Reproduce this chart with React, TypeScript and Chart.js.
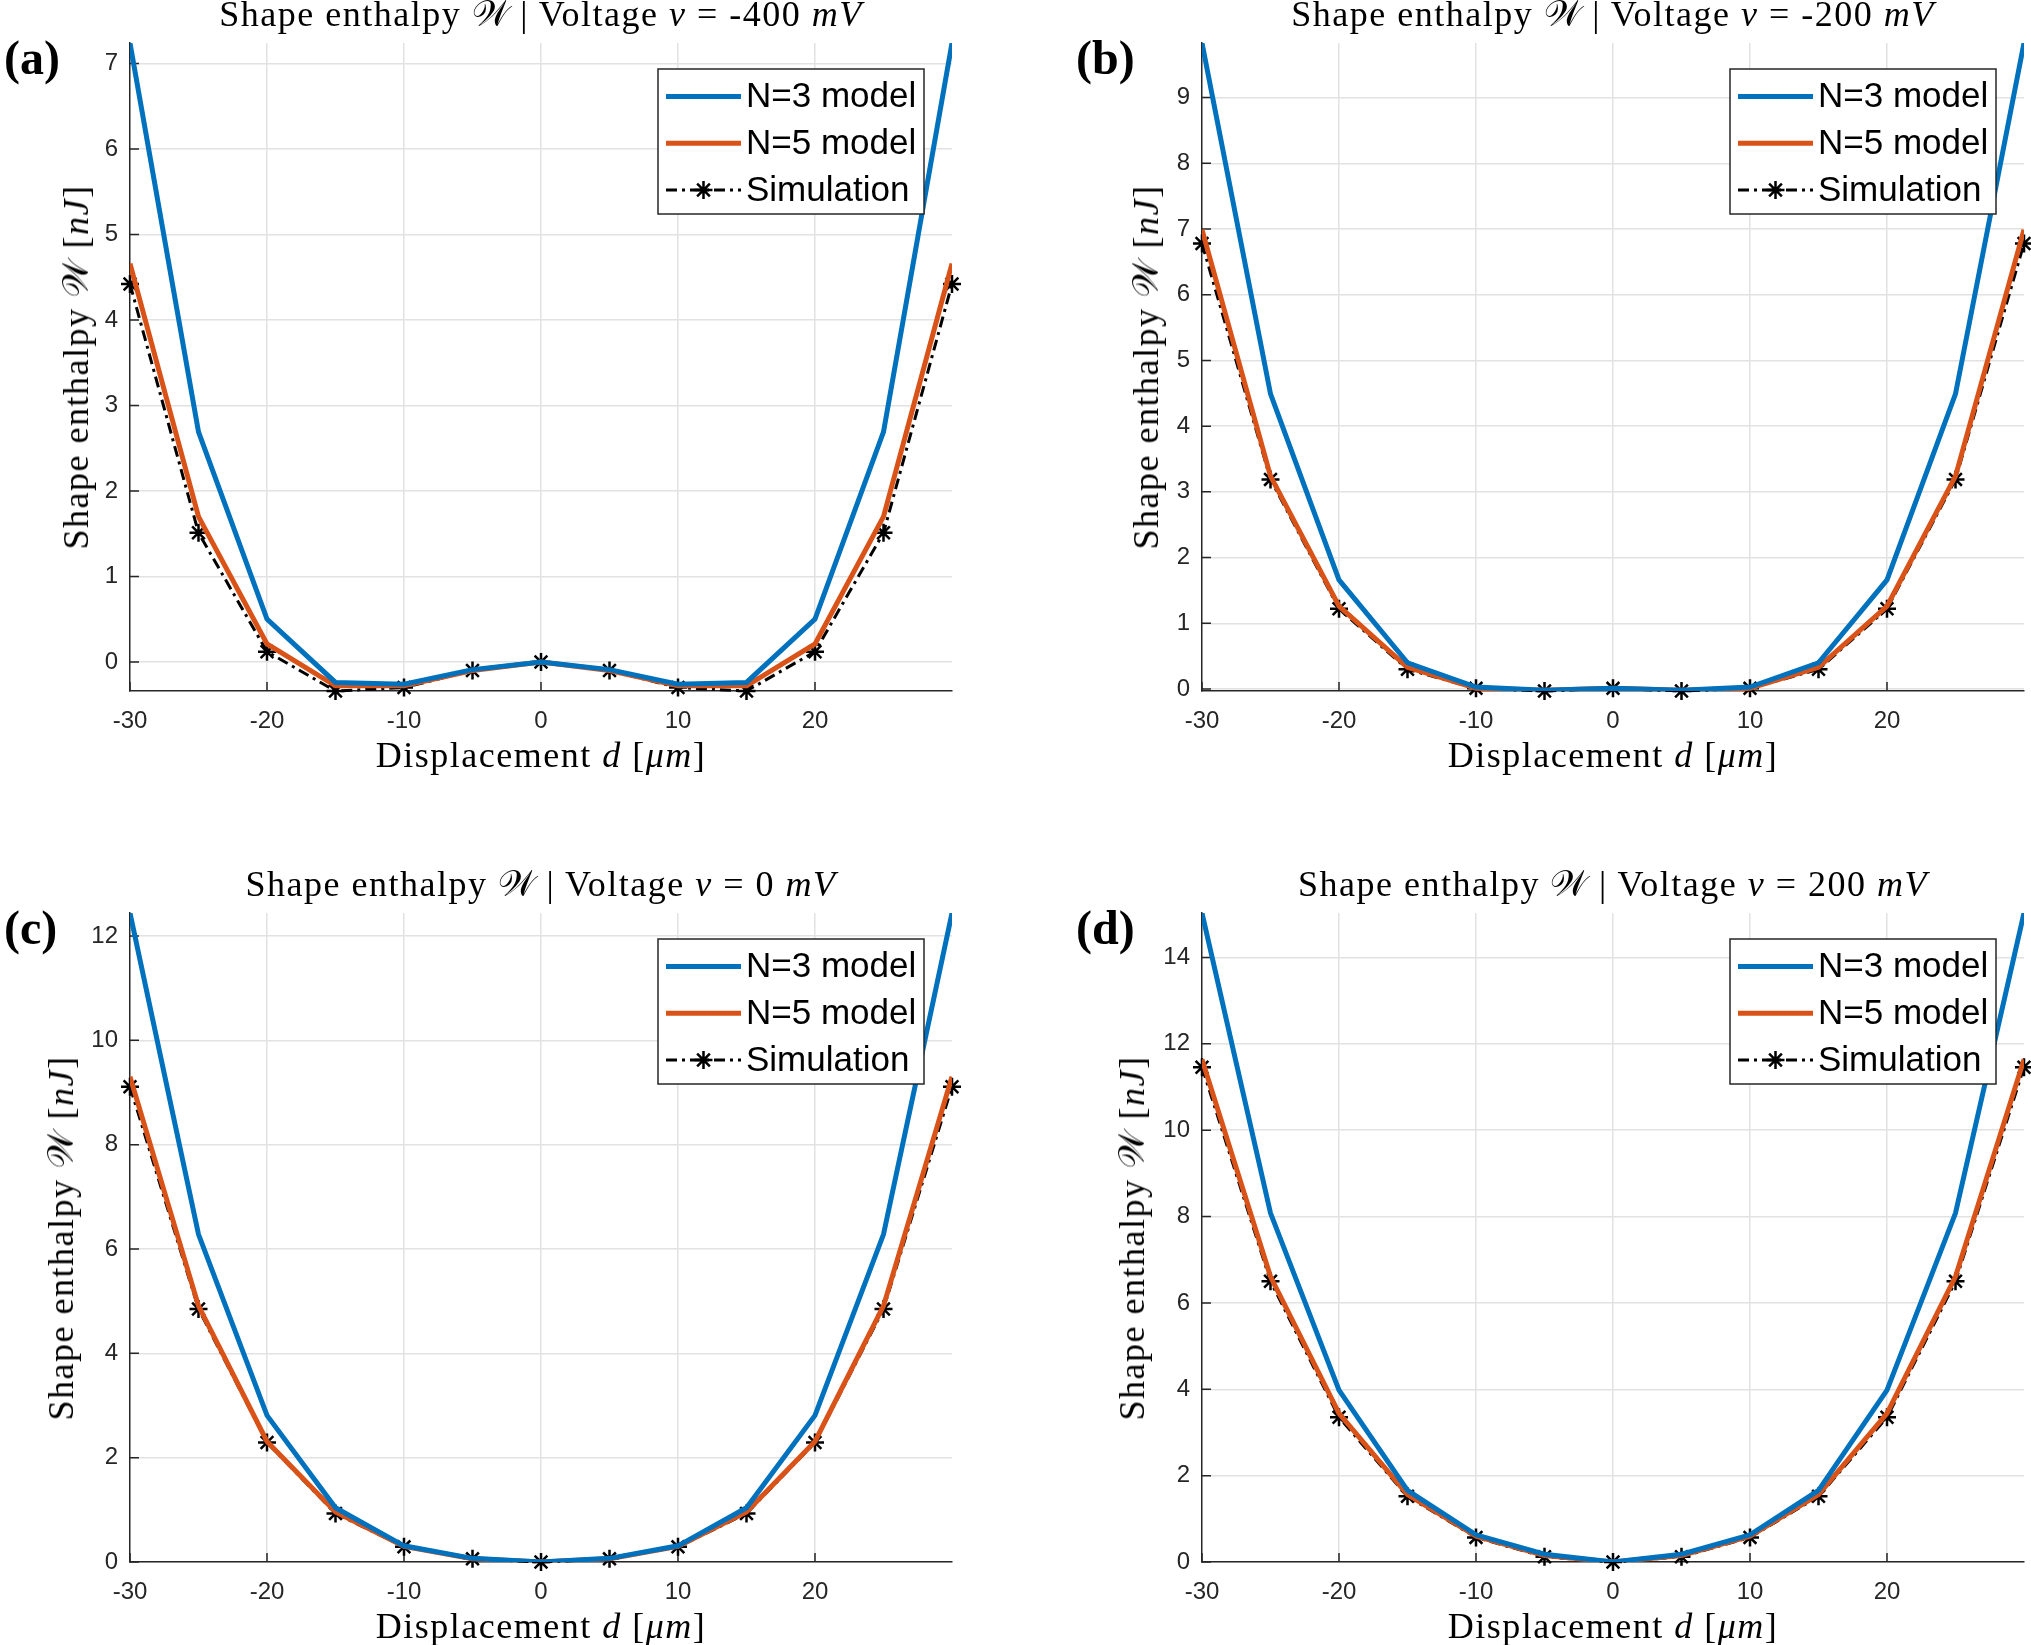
import { useEffect, useRef } from "react";
import Chart from "chart.js/auto";

// displacement samples (µm)
const DISPLACEMENT = [-30, -25, -20, -15, -10, -5, 0, 5, 10, 15, 20, 25, 30];
const X_TICKS = [-30, -20, -10, 0, 10, 20, 30];
const X_TICK_LABELS = ["-30", "-20", "-10", "0", "10", "20", ""];

// v = -400 mV
const N3_M400 = [7.24, 2.69, 0.5, -0.24, -0.26, -0.09, 0, -0.09, -0.26, -0.24, 0.5, 2.69, 7.24];
const N5_M400 = [4.66, 1.7, 0.21, -0.28, -0.28, -0.1, 0, -0.1, -0.28, -0.28, 0.21, 1.7, 4.66];
const SIM_M400 = [4.42, 1.51, 0.12, -0.34, -0.3, -0.1, 0, -0.1, -0.3, -0.34, 0.12, 1.51, 4.42];
const Y_TICKS_M400 = [0, 1, 2, 3, 4, 5, 6, 7];

// v = -200 mV
const N3_M200 = [9.83, 4.49, 1.66, 0.4, 0.03, -0.02, 0.01, -0.02, 0.03, 0.4, 1.66, 4.49, 9.83];
const N5_M200 = [6.99, 3.24, 1.26, 0.33, 0.01, -0.02, 0.01, -0.02, 0.01, 0.33, 1.26, 3.24, 6.99];
const SIM_M200 = [6.78, 3.19, 1.22, 0.3, 0.01, -0.03, 0.01, -0.03, 0.01, 0.3, 1.22, 3.19, 6.78];
const Y_TICKS_M200 = [0, 1, 2, 3, 4, 5, 6, 7, 8, 9];

// v = 0 mV
const N3_0 = [12.44, 6.28, 2.81, 1.04, 0.31, 0.07, 0, 0.07, 0.31, 1.04, 2.81, 6.28, 12.44];
const N5_0 = [9.3, 4.91, 2.31, 0.96, 0.3, 0.06, 0, 0.06, 0.3, 0.96, 2.31, 4.91, 9.3];
const SIM_0 = [9.11, 4.85, 2.29, 0.93, 0.29, 0.06, 0, 0.06, 0.29, 0.93, 2.29, 4.85, 9.11];
const Y_TICKS_0 = [0, 2, 4, 6, 8, 10, 12];

// v = 200 mV
const N3_P200 = [15.03, 8.08, 3.98, 1.66, 0.63, 0.18, 0, 0.18, 0.63, 1.66, 3.98, 8.08, 15.03];
const N5_P200 = [11.64, 6.61, 3.44, 1.56, 0.6, 0.15, 0, 0.15, 0.6, 1.56, 3.44, 6.61, 11.64];
const SIM_P200 = [11.46, 6.5, 3.35, 1.52, 0.57, 0.12, 0, 0.12, 0.57, 1.52, 3.35, 6.5, 11.46];
const Y_TICKS_P200 = [0, 2, 4, 6, 8, 10, 12, 14];

const SERIES_NAMES = ["N=3 model", "N=5 model", "Simulation"];

const BLUE = "#0072BD";
const ORANGE = "#D95319";
const AXIS = "#262626";
const GRID = "#e2e2e2";
const SANS = "'Liberation Sans', Arial, sans-serif";
const SERIF = "'Liberation Serif', 'Times New Roman', serif";
const SCRIPT = "'DejaVu Serif', 'DejaVu Sans', 'Noto Sans CJK SC', serif";

const Y_AXIS_W = 100;
const X_AXIS_H = 60;
const X_TICK_PAD = 16;
const STAR_R = 9;

type Panel = {
  tag: string;
  voltage: string;
  n3: number[];
  n5: number[];
  sim: number[];
  yMin: number;
  yMax: number;
  yTicks: number[];
  left: number;
  top: number;
  right: number;
  bottom: number;
  ylabelGap: number;
};

const PANELS: Panel[] = [
  { tag: "(a)", voltage: "-400", n3: N3_M400, n5: N5_M400, sim: SIM_M400, yMin: -0.34, yMax: 7.24, yTicks: Y_TICKS_M400,
    left: 130, top: 43, right: 952, bottom: 691, ylabelGap: 54 },
  { tag: "(b)", voltage: "-200", n3: N3_M200, n5: N5_M200, sim: SIM_M200, yMin: -0.03, yMax: 9.83, yTicks: Y_TICKS_M200,
    left: 1202, top: 43, right: 2024, bottom: 691, ylabelGap: 56 },
  { tag: "(c)", voltage: "0", n3: N3_0, n5: N5_0, sim: SIM_0, yMin: 0, yMax: 12.44, yTicks: Y_TICKS_0,
    left: 130, top: 913, right: 952, bottom: 1562, ylabelGap: 69 },
  { tag: "(d)", voltage: "200", n3: N3_P200, n5: N5_P200, sim: SIM_P200, yMin: 0, yMax: 15.03, yTicks: Y_TICKS_P200,
    left: 1202, top: 913, right: 2024, bottom: 1562, ylabelGap: 70 },
];

function drawStar(ctx: CanvasRenderingContext2D, x: number, y: number, r: number) {
  ctx.beginPath();
  for (let k = 0; k < 4; k++) {
    const a = (k * Math.PI) / 4;
    ctx.moveTo(x - r * Math.cos(a), y - r * Math.sin(a));
    ctx.lineTo(x + r * Math.cos(a), y + r * Math.sin(a));
  }
  ctx.stroke();
}

// MATLAB style ticks pointing into the axes
const innerTicks = {
  id: "innerTicks",
  beforeDatasetsDraw(chart: any) {
    const { ctx, chartArea: a, scales } = chart;
    ctx.save();
    ctx.strokeStyle = AXIS;
    ctx.lineWidth = 1.5;
    ctx.beginPath();
    scales.x.ticks.forEach((t: any) => {
      if (t.value >= 30) return;
      const px = scales.x.getPixelForValue(t.value);
      ctx.moveTo(px, a.bottom);
      ctx.lineTo(px, a.bottom - 9);
    });
    scales.y.ticks.forEach((t: any) => {
      const py = scales.y.getPixelForValue(t.value);
      ctx.moveTo(a.left, py);
      ctx.lineTo(a.left + 9, py);
    });
    ctx.stroke();
    ctx.restore();
  },
};

// boxed legend in the north-east corner
const boxLegend = {
  id: "boxLegend",
  afterDraw(chart: any) {
    const { ctx, chartArea } = chart;
    const w = 266;
    const h = 145;
    const x0 = chartArea.right - 28 - w;
    const y0 = chartArea.top + 26;
    ctx.save();
    ctx.fillStyle = "#fff";
    ctx.fillRect(x0, y0, w, h);
    ctx.strokeStyle = AXIS;
    ctx.lineWidth = 1.5;
    ctx.strokeRect(x0, y0, w, h);
    chart.data.datasets.forEach((ds: any, i: number) => {
      const y = y0 + 27.5 + i * 46.7;
      ctx.strokeStyle = ds.borderColor;
      ctx.lineWidth = ds.borderWidth;
      ctx.setLineDash(ds.borderDash || []);
      ctx.beginPath();
      ctx.moveTo(x0 + 8, y);
      ctx.lineTo(x0 + 83, y);
      ctx.stroke();
      ctx.setLineDash([]);
      if (ds.pointRadius > 0) {
        ctx.lineWidth = ds.pointBorderWidth;
        drawStar(ctx, x0 + 45.5, y, ds.pointRadius);
      }
      ctx.fillStyle = "#000";
      ctx.font = `35px ${SANS}`;
      ctx.textBaseline = "middle";
      ctx.textAlign = "left";
      ctx.fillText(ds.label, x0 + 88, y + 1);
    });
    ctx.restore();
  },
};

function PanelChart({ p }: { p: Panel }) {
  const canvasRef = useRef<HTMLCanvasElement>(null);
  const chartRef = useRef<Chart | null>(null);

  // the x scale reserves its tick padding on the right, so the canvas ends exactly there
  const cw = p.right - p.left + 130 + X_TICK_PAD;
  const ch = p.bottom - p.top + 43 + 90;

  useEffect(() => {
    if (!canvasRef.current) return;
    if (chartRef.current) chartRef.current.destroy();
    const pts = (vals: number[]) => DISPLACEMENT.map((x, i) => ({ x, y: vals[i] }));
    const tickFont = { family: SANS, size: 24 };
    const gridColor = (c: any) => (Math.abs(c.tick?.value) === 30 ? "rgba(0,0,0,0)" : GRID);

    chartRef.current = new Chart(canvasRef.current, {
      type: "line",
      data: {
        datasets: [
          { label: SERIES_NAMES[0], data: pts(p.n3), borderColor: BLUE, backgroundColor: BLUE, borderWidth: 5, pointRadius: 0 },
          { label: SERIES_NAMES[1], data: pts(p.n5), borderColor: ORANGE, backgroundColor: ORANGE, borderWidth: 5, pointRadius: 0 },
          {
            label: SERIES_NAMES[2], data: pts(p.sim), borderColor: "#000", backgroundColor: "#000", borderWidth: 3,
            borderDash: [11, 5, 3, 5], pointStyle: "star", pointRadius: STAR_R, pointBorderWidth: 2.5,
            pointBorderColor: "#000", clip: false as any,
          },
        ],
      },
      options: {
        animation: false,
        responsive: false,
        events: [],
        layout: { padding: { left: 130 - Y_AXIS_W, top: 43, right: 0, bottom: 90 - X_AXIS_H } },
        plugins: { legend: { display: false }, tooltip: { enabled: false }, title: { display: false } },
        scales: {
          x: {
            type: "linear",
            min: -30,
            max: 30,
            afterBuildTicks: (s: any) => { s.ticks = X_TICKS.map((v) => ({ value: v })); },
            afterFit: (s: any) => { s.height = X_AXIS_H; },
            ticks: {
              callback: (v: any) => X_TICK_LABELS[X_TICKS.indexOf(Number(v))],
              font: tickFont, color: AXIS, padding: X_TICK_PAD, maxRotation: 0, autoSkip: false,
            },
            grid: { color: gridColor, lineWidth: 1.5, drawTicks: false },
            border: { display: true, color: AXIS, width: 1.5 },
          },
          y: {
            type: "linear",
            min: p.yMin,
            max: p.yMax,
            afterBuildTicks: (s: any) => { s.ticks = p.yTicks.map((v) => ({ value: v })); },
            afterFit: (s: any) => { s.width = Y_AXIS_W; },
            ticks: { callback: (v: any) => String(v), font: tickFont, color: AXIS, padding: 12, autoSkip: false },
            grid: { color: GRID, lineWidth: 1.5, drawTicks: false },
            border: { display: true, color: AXIS, width: 1.5 },
          },
        },
      },
      plugins: [innerTicks, boxLegend],
    });
    return () => { chartRef.current?.destroy(); chartRef.current = null; };
  }, [p]);

  const plotW = p.right - p.left;
  const serifText = {
    fontFamily: SERIF, fontSize: 36, lineHeight: "36px", letterSpacing: "1.5px",
    whiteSpace: "nowrap" as const, color: "#000",
  };

  return (
    <>
      <canvas
        ref={canvasRef}
        width={cw}
        height={ch}
        style={{ position: "absolute", left: p.left - 130, top: p.top - 43, width: cw, height: ch }}
      />
      <div style={{ ...serifText, position: "absolute", left: p.left, width: plotW, top: p.top - 47.3, textAlign: "center" }}>
        Shape enthalpy <span style={{ fontFamily: SCRIPT, letterSpacing: 0 }}>𝒲</span> | Voltage <i>v</i> = {p.voltage} <i>mV</i>
      </div>
      <div style={{ ...serifText, position: "absolute", left: p.left, width: plotW, top: p.bottom + 45.7, textAlign: "center" }}>
        Displacement <i>d</i> [<i>μm</i>]
      </div>
      <div
        style={{
          ...serifText, position: "absolute", left: p.left - p.ylabelGap, top: (p.top + p.bottom) / 2,
          transform: "translate(-50%, -50%) rotate(-90deg)",
        }}
      >
        Shape enthalpy <span style={{ fontFamily: SCRIPT, letterSpacing: 0 }}>𝒲</span> [<i>nJ</i>]
      </div>
      <div
        style={{
          fontFamily: SERIF, fontWeight: "bold", fontSize: 48, lineHeight: "48px", position: "absolute",
          left: p.left - 126, top: p.top - 9.2, color: "#000",
        }}
      >
        {p.tag}
      </div>
    </>
  );
}

export default function App() {
  return (
    <div style={{ position: "absolute", left: 0, top: 0, width: 2031, height: 1645, background: "#fff", overflow: "hidden" }}>
      {PANELS.map((p) => (
        <PanelChart key={p.tag} p={p} />
      ))}
    </div>
  );
}
